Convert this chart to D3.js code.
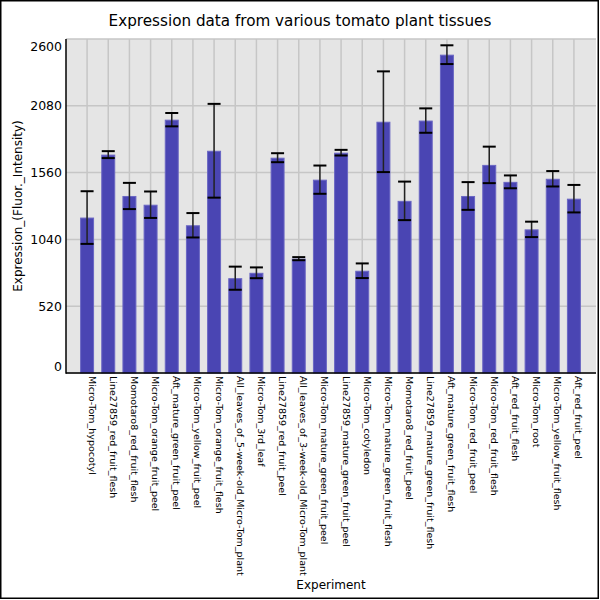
<!DOCTYPE html>
<html>
<head>
<meta charset="utf-8">
<script src="https://cdn.jsdelivr.net/npm/d3@7"></script>
<style>
html,body{margin:0;padding:0;background:#fff;}
svg{display:block;font-family:"DejaVu Sans",sans-serif;}
</style>
</head>
<body>
<svg id="chart" width="600" height="600"></svg>
<script>
const categories = [
  "Micro-Tom_hypocotyl","Line27859_red_fruit_flesh","Momotaro8_red_fruit_flesh","Micro-Tom_orange_fruit_peel",
  "Aft_mature_green_fruit_peel","Micro-Tom_yellow_fruit_peel","Micro-Tom_orange_fruit_flesh","All_leaves_of_5-week-old_Micro-Tom_plant",
  "Micro-Tom_3rd_leaf","Line27859_red_fruit_peel","All_leaves_of_3-week-old_Micro-Tom_plant","Micro-Tom_mature_green_fruit_peel",
  "Line27859_mature_green_fruit_peel","Micro-Tom_cotyledon","Micro-Tom_mature_green_fruit_flesh","Momotaro8_red_fruit_peel",
  "Line27859_mature_green_fruit_flesh","Aft_mature_green_fruit_flesh","Micro-Tom_red_fruit_peel","Micro-Tom_red_fruit_flesh",
  "Aft_red_fruit_flesh","Micro-Tom_root","Micro-Tom_yellow_fruit_flesh","Aft_red_fruit_peel"
];
const values = [1210,1700,1378,1310,1972,1150,1730,738,780,1676,890,1505,1715,796,1956,1340,1965,2478,1378,1620,1488,1118,1512,1357];
const errors = [205,27,102,103,52,95,365,90,42,35,12,110,22,57,392,150,95,73,108,142,50,60,60,107];
const yTicks = [0,520,1040,1560,2080,2600];
const title = "Expression data from various tomato plant tissues";
const xTitle = "Experiment";
const yTitle = "Expression_(Fluor._Intensity)";

const svg = d3.select("#chart");
const L = 66, R = 596, T = 39, B = 373;

svg.append("rect").attr("x",0.75).attr("y",0.75).attr("width",597.5).attr("height",597.5)
  .attr("fill","#fff").attr("stroke","#000").attr("stroke-width",1.5);

const x = d3.scaleBand().domain(categories).range([L + 10.5, R - 11.5]).paddingInner(0.34).paddingOuter(0.17);
const y = d3.scaleLinear().domain([0,2600]).range([B, T]);

svg.append("rect").attr("x",L).attr("y",T).attr("width",R-L).attr("height",B-T).attr("fill","#e5e5e5");

// grid
svg.append("g").selectAll("line.h").data(yTicks).join("line")
  .attr("x1",L).attr("x2",R).attr("y1",d=>y(d)).attr("y2",d=>y(d))
  .attr("stroke","#c6c6c6").attr("stroke-width",1.5);
svg.append("g").selectAll("line.v").data(categories).join("line")
  .attr("x1",d=>x(d)+x.bandwidth()/2).attr("x2",d=>x(d)+x.bandwidth()/2)
  .attr("y1",T).attr("y2",B)
  .attr("stroke","#c6c6c6").attr("stroke-width",1.5);

// bars
svg.append("g").selectAll("rect").data(categories).join("rect")
  .attr("x",d=>x(d)+0.5).attr("width",x.bandwidth()-1)
  .attr("y",(d,i)=>y(values[i])+0.5).attr("height",(d,i)=>B - y(values[i]) - 0.5)
  .attr("fill","#4a45b3").attr("stroke","#6a66c3").attr("stroke-width",1);

// error bars
const eg = svg.append("g");
categories.forEach((c,i)=>{
  const cx = x(c)+x.bandwidth()/2;
  const hi = y(values[i]+errors[i]), lo = y(values[i]-errors[i]);
  eg.append("line").attr("x1",cx).attr("x2",cx).attr("y1",hi).attr("y2",lo).attr("stroke","#222").attr("stroke-width",1.5);
  [hi,lo].forEach(v=>eg.append("line").attr("x1",cx-6.5).attr("x2",cx+6.5).attr("y1",v).attr("y2",v)
     .attr("stroke","#000").attr("stroke-width",2));
});

// axes lines
svg.append("line").attr("x1",L).attr("x2",L).attr("y1",T).attr("y2",B+0.75).attr("stroke","#000").attr("stroke-width",1.5);
svg.append("line").attr("x1",L).attr("x2",R).attr("y1",B).attr("y2",B).attr("stroke","#000").attr("stroke-width",1.5);

// y tick labels (end labels clamped inside)
svg.append("g").selectAll("text").data(yTicks).join("text")
  .attr("x",L-4)
  .attr("y",d=>{ let v=y(d); if(d===0) v-=6; if(d===2600) v+=8; return v; })
  .attr("dy","0.35em").attr("text-anchor","end").attr("font-size",12.5).attr("fill","#000")
  .text(d=>d);

// x tick labels
svg.append("g").selectAll("text").data(categories).join("text")
  .attr("transform",d=>`translate(${x(d)+x.bandwidth()/2+1.5},${B+3}) rotate(90)`)
  .attr("font-size",9.5).attr("fill","#000").attr("text-anchor","start")
  .text(d=>d);

svg.append("text").attr("x",300).attr("y",26).attr("text-anchor","middle").attr("font-size",15.2).attr("fill","#000").text(title);
svg.append("text").attr("x",(L+R)/2).attr("y",589).attr("text-anchor","middle").attr("font-size",12).attr("fill","#000").text(xTitle);
svg.append("text").attr("transform",`translate(22,${(T+B)/2}) rotate(-90)`).attr("text-anchor","middle").attr("font-size",12).attr("fill","#000").text(yTitle);
</script>
</body>
</html>
